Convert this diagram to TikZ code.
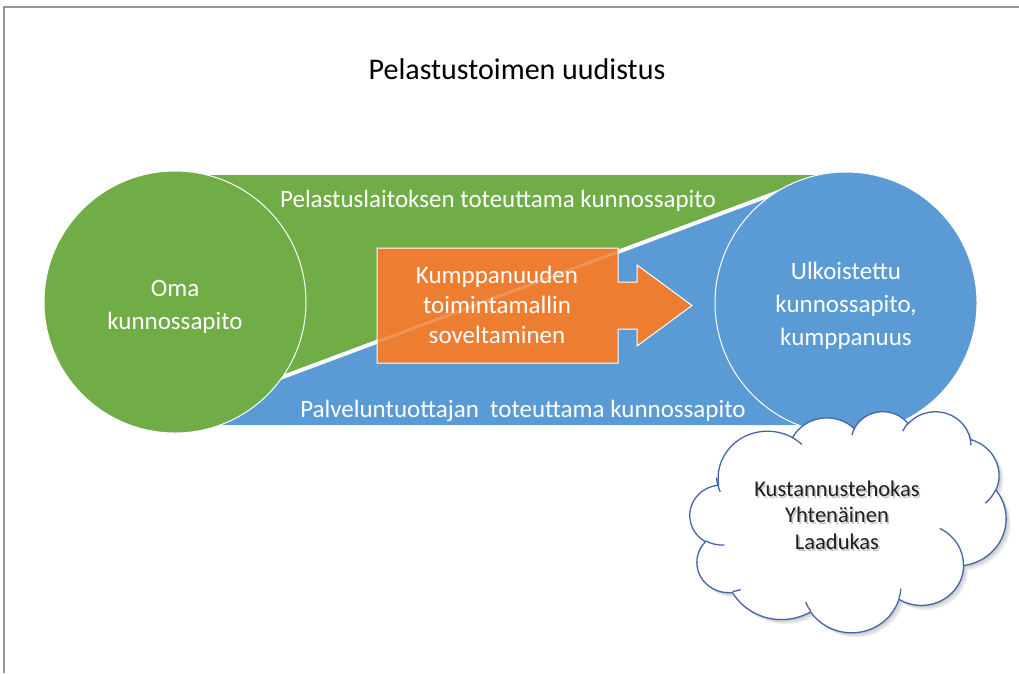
\documentclass[tikz,border=0pt]{standalone}
\usepackage{fontspec}
\setmainfont{Carlito}
\definecolor{grn}{RGB}{112,173,71}
\definecolor{blu}{RGB}{91,155,213}
\definecolor{orn}{RGB}{237,125,49}
\definecolor{cloudline}{RGB}{68,102,168}
\definecolor{framegray}{RGB}{150,150,150}
% text with a light shadow set behind it (zero-width overlay)
\newcommand\shadowed[1]{\makebox[0pt][l]{\hspace{1.6pt}\raisebox{-1.6pt}{\textcolor{black!22}{#1}}}#1}
% elliptical arc given as in DrawingML: radii, visual start angle, sweep
\tikzset{oarc/.style n args={4}{x radius=#1, y radius=#2,
  start angle={atan2((#1)*sin(#3),(#2)*cos(#3))},
  delta angle={mod(atan2((#1)*sin((#3)+(#4)),(#2)*cos((#3)+(#4)))-atan2((#1)*sin(#3),(#2)*cos(#3))+720,360)}}}
% cloud outline on a 43.2 x 43.2 frame (y downwards)
\newcommand\cloudoutline{(3.900,14.370)
 arc[oarc={6.753}{9.190}{-190.4875}{123.7805}]
 arc[oarc={5.333}{7.267}{-144.1024}{89.9452}]
 arc[oarc={4.365}{5.945}{-145.8079}{99.7230}]
 arc[oarc={4.857}{6.595}{-130.9861}{117.2417}]
 arc[oarc={5.333}{7.273}{-78.7089}{109.0269}]
 arc[oarc={6.775}{9.220}{-46.2673}{130.2690}]
 arc[oarc={5.785}{7.867}{0.6250}{114.0333}]
 arc[oarc={6.752}{9.215}{22.4516}{115.1726}]
 arc[oarc={7.720}{10.543}{66.2426}{75.7110}]
 arc[oarc={4.360}{5.918}{-274.9421}{146.7356}]
 arc[oarc={4.345}{5.945}{-246.8285}{152.5189}] -- cycle}
% the small inner creases of the cloud
\newcommand\cloudcreases{(4.693,26.177) arc[oarc={4.345}{5.945}{86.7420}{26.4295}]
 (6.928,34.899) arc[oarc={4.360}{5.918}{73.6105}{11.4475}]
 (16.478,39.090) arc[oarc={6.752}{9.215}{137.6242}{14.0811}]
 (28.827,34.751) arc[oarc={6.752}{9.215}{6.4533}{15.9984}]
 (34.129,22.954) arc[oarc={5.785}{7.867}{-70.2924}{70.9174}]
 (41.798,15.354) arc[oarc={5.333}{7.273}{30.3180}{27.7515}]
 (38.324,5.426) arc[oarc={4.857}{6.595}{-13.7443}{14.8589}]
 (29.078,3.952) arc[oarc={4.857}{6.595}{-149.1815}{18.1954}]
 (22.141,4.720) arc[oarc={4.365}{5.945}{-163.4943}{17.6864}]
 (14.000,5.192) arc[oarc={6.753}{9.190}{-66.7070}{12.3194}]
 (4.127,15.789) arc[oarc={6.753}{9.190}{150.0}{22.7851}]}
\begin{document}
\begin{tikzpicture}[x=1pt,y=-1pt,
  wlabel/.style={text=white, font=\fontsize{25}{33}\selectfont, align=center, inner sep=0pt},
  bigcircle/.style={circle, draw=white, line width=1, minimum size=262, inner sep=0pt},
  cloudtext/.style={font=\fontsize{22.5}{26.5}\selectfont, align=center, inner sep=0pt}]
\useasboundingbox (0,0) rectangle (1019,673);
\fill[white] (0,0) rectangle (1019,673);

% frame
\draw[framegray, line width=1.5] (4,673) -- (4,7) -- (1019,7);

% title
\node[font=\fontsize{30}{36}\selectfont, anchor=base, inner sep=0pt] (title) at (517,79) {Pelastustoimen uudistus};

% the two opposing triangles
\coordinate (P1) at (154,425);
\coordinate (P2) at (824,175);
\fill[grn] (175,175) -- (P2) -- (P1) -- cycle;
\fill[blu] (P1) -- (846,425) -- (846,175) -- (P2) -- cycle;
\draw[white, line width=4] (P1) -- (P2);

\node[wlabel, anchor=base] (toptxt) at (498,207) {Pelastuslaitoksen toteuttama kunnossapito};
\node[wlabel, anchor=base] (bottxt) at (523,417) {Palveluntuottajan\ \ toteuttama kunnossapito};

% circles
\node[bigcircle, fill=grn] (oma) at (175,302) {};
\node[bigcircle, fill=blu] (ulko) at (846,303) {};
\node[wlabel] (omatxt) at (175,306.5) {Oma\\kunnossapito};
\node[wlabel] (ulkotxt) at (846,306) {Ulkoistettu\\kunnossapito,\\kumppanuus};

% block arrow
\draw[fill=orn, draw=white, line width=1] (377,248) -- (618,248) -- (618,282) -- (637,282)
  -- (637,265) -- (692,305.5) -- (637,346) -- (637,329) -- (618,329) -- (618,363)
  -- (377,363) -- cycle;
\begin{scope}
  \clip (377,248) rectangle (618,363);
  \draw[white, opacity=0.18, line width=3] (P1) -- (P2);
\end{scope}
\node[wlabel, font=\fontsize{25}{30}\selectfont] (armtxt) at (497,304.5) {Kumppanuuden\\toimintamallin\\soveltaminen};

% cloud with soft shadow
\foreach \s in {1.5,3,4.5} {
  \begin{scope}[shift={(690+\s,411+\s)}, x=7.315pt, y=-5.116pt]
    \fill[black, opacity=0.07] \cloudoutline;
  \end{scope}
}
\begin{scope}[shift={(690,411)}, x=7.315pt, y=-5.116pt]
  \filldraw[fill=white, draw=cloudline, line width=1.3] \cloudoutline;
  \draw[cloudline, line width=1.3] \cloudcreases;
\end{scope}
\node[cloudtext, text=black!88] (pros) at (837,516)
  {\shadowed{Kustannustehokas}\\\shadowed{Yhtenäinen}\\\shadowed{Laadukas}};
\end{tikzpicture}
\end{document}
